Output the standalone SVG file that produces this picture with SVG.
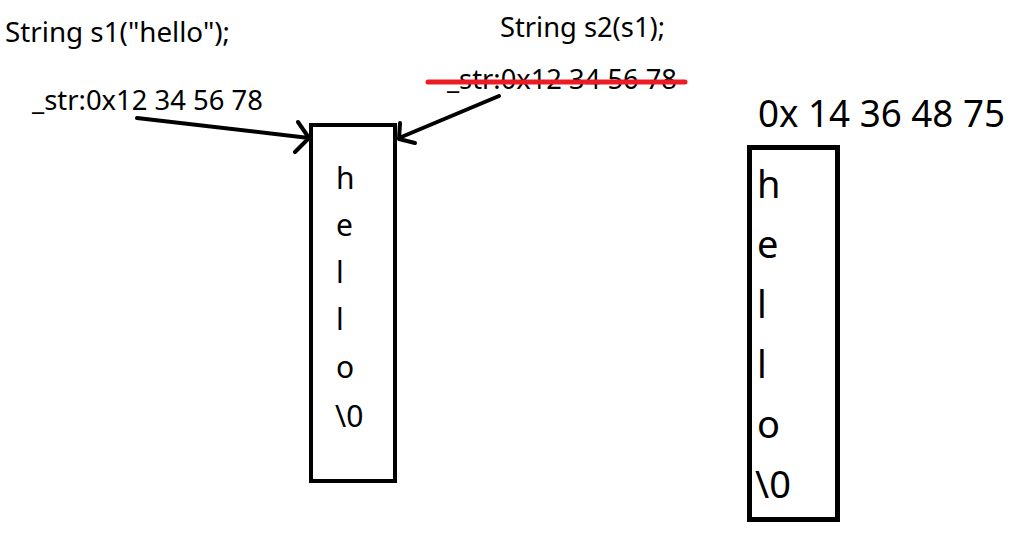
<svg xmlns="http://www.w3.org/2000/svg" width="1018" height="540" viewBox="0 0 1018 540">
<style>
text{font-family:"Noto Sans","Liberation Sans",sans-serif;fill:#000}
.lbl{font-size:28px}
.ptr{font-size:27px}
.c1{font-size:30px}
.c2{font-size:38px}
.box{fill:none;stroke:#000}
.arr{fill:none;stroke:#000;stroke-width:4;stroke-linecap:round;stroke-linejoin:round}
.strike{stroke:#ec1c24;stroke-width:5;stroke-linecap:round}
</style>
<rect width="1018" height="540" fill="#fff"/>
<g id="s1-decl"><text class="lbl" x="5" y="42" textLength="225" lengthAdjust="spacingAndGlyphs">String s1("hello");</text></g>
<g id="s1-ptr"><text class="ptr" x="32" y="110" textLength="231" lengthAdjust="spacingAndGlyphs">_str:0x12 34 56 78</text></g>
<g id="s2-decl"><text class="lbl" x="500" y="37" textLength="165" lengthAdjust="spacingAndGlyphs">String s2(s1);</text></g>
<g id="s2-ptr">
<text class="ptr" x="447" y="89" textLength="230" lengthAdjust="spacingAndGlyphs">_str:0x12 34 56 78</text>
<line class="strike" x1="428" y1="82" x2="685" y2="82"/>
</g>
<g id="box1">
<rect class="box" x="311" y="125" width="84" height="356" stroke-width="4"/>
<text class="c1" x="336" y="189">h</text>
<text class="c1" x="336" y="236">e</text>
<text class="c1" x="336" y="283">l</text>
<text class="c1" x="336" y="330">l</text>
<text class="c1" x="336" y="378">o</text>
<text class="c1" x="335" y="427">\0</text>
</g>
<g id="addr2"><text class="c2" x="758" y="127" textLength="247" lengthAdjust="spacingAndGlyphs">0x 14 36 48 75</text></g>
<g id="box2">
<rect class="box" x="749.5" y="147.5" width="88" height="372" stroke-width="5"/>
<text class="c2" x="757" y="198">h</text>
<text class="c2" x="757" y="258">e</text>
<text class="c2" x="757" y="318">l</text>
<text class="c2" x="757" y="378">l</text>
<text class="c2" x="757" y="438">o</text>
<text class="c2" x="755" y="498">\0</text>
</g>
<g id="connectors">
<path class="arr" d="M137 118 L309 138 M298 122 L309 138 L295 152"/>
<path class="arr" d="M499 96 L399 138 M400 123 L399 139 L415 143"/>
</g>
</svg>
